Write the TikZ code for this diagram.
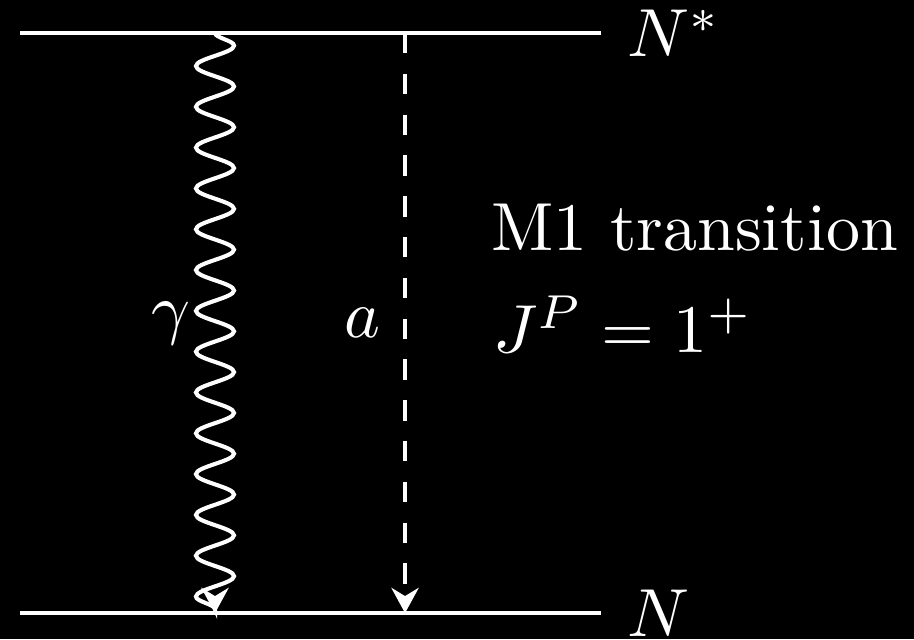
\documentclass[tikz,border=0pt]{standalone}
\usepackage{amsmath, amssymb}
\usepackage{tikz}
\usetikzlibrary{
    arrows.meta,
    calc,
    decorations.pathmorphing
}

\begin{document}
\begin{tikzpicture}[
    color=white,
    line width=0.6pt,
    photon/.style={decorate, decoration={snake, amplitude=2.8pt, segment length=6pt}},
    scalar/.style={dashed},
    tip/.style={-{Stealth[length=3.7pt, width=4pt]}},
    level label/.style={anchor=base west, inner sep=0pt, xshift=3.6pt, yshift=-3.5pt}
]
    % Background
    \fill[black] (0, 0) rectangle (4.723, 3.302);
    \useasboundingbox (0, 0) rectangle (4.723, 3.302);

    % Levels
    \coordinate (Ns1) at (0.103, 3.132);
    \coordinate (Ns2) at (3.106, 3.132);
    \coordinate (N1) at (0.103, 0.134);
    \coordinate (N2) at (3.106, 0.134);
    \draw (Ns1) -- (Ns2) node[level label] (Nstar) {$N^*$};
    \draw (N1) -- (N2) node[level label] (Nground) {$N$};

    % Photon and axion
    \coordinate (gtop) at (1.111, 3.132);
    \coordinate (gbot) at (1.111, 0.134);
    \coordinate (atop) at (2.093, 3.132);
    \coordinate (abot) at (2.093, 0.134);
    \draw[photon, tip] (gtop) -- (gbot) node[midway, left] (glabel) {$\gamma$};
    \draw[scalar, tip] (atop) -- (abot) node[midway, left] (alabel) {$a$};

    % Text
    \node[anchor=base west, inner sep=0pt] (trans) at (2.527, 2.010) {M1 transition};
    \node[anchor=base west, inner sep=0pt] (spin) at (2.537, 1.478) {$J^P = 1^+$};
\end{tikzpicture}
\end{document}
